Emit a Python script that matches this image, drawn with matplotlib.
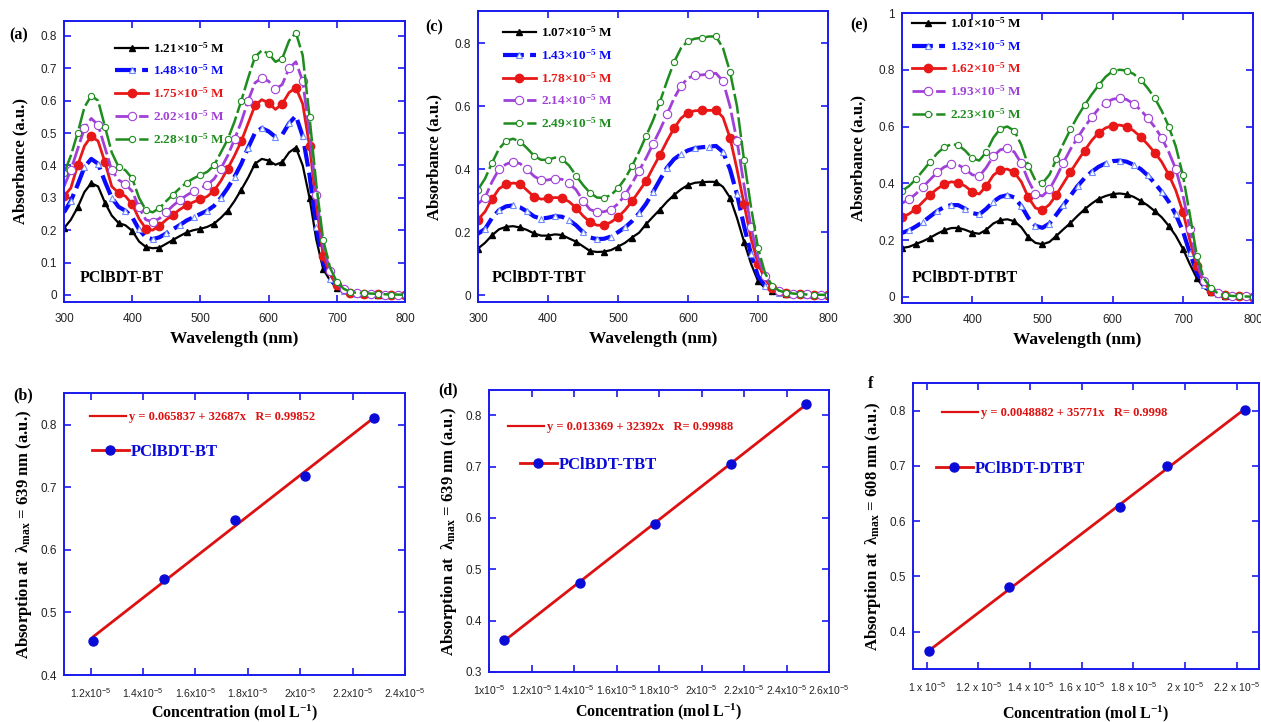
import numpy as np
import matplotlib.pyplot as plt
from matplotlib.lines import Line2D
from matplotlib.ticker import FormatStrFormatter

plt.rcParams['font.family'] = 'Liberation Sans'
plt.rcParams['mathtext.default'] = 'regular'

# ---------------- data ----------------
wl = np.arange(300, 801, 10)

# (a) PClBDT-BT
conc_a = ['1.21', '1.48', '1.75', '2.02', '2.28']
a_1 = [0.206, 0.232, 0.27, 0.318, 0.345, 0.335, 0.285, 0.245, 0.222, 0.215,
       0.198, 0.165, 0.148, 0.144, 0.146, 0.158, 0.17, 0.182, 0.193, 0.2,
       0.204, 0.21, 0.22, 0.238, 0.26, 0.29, 0.325, 0.362, 0.405, 0.42,
       0.415, 0.402, 0.41, 0.44, 0.455, 0.40, 0.30, 0.17, 0.08, 0.045,
       0.022, 0.012, 0.006, 0.004, 0.003, 0.002, 0.001, 0.001, 0.0, 0.0, 0.0]
a_2 = [0.255, 0.29, 0.34, 0.395, 0.42, 0.405, 0.35, 0.3, 0.272, 0.26,
       0.24, 0.202, 0.178, 0.172, 0.178, 0.19, 0.203, 0.216, 0.23, 0.24,
       0.25, 0.26, 0.275, 0.3, 0.33, 0.365, 0.405, 0.455, 0.5, 0.515,
       0.505, 0.488, 0.495, 0.53, 0.553, 0.49, 0.37, 0.21, 0.1, 0.05,
       0.025, 0.013, 0.007, 0.004, 0.003, 0.002, 0.001, 0.001, 0.0, 0.0, 0.0]
a_3 = [0.305, 0.33, 0.4, 0.46, 0.49, 0.475, 0.41, 0.335, 0.315, 0.305,
       0.28, 0.235, 0.205, 0.2, 0.214, 0.232, 0.248, 0.264, 0.277, 0.287,
       0.295, 0.304, 0.322, 0.352, 0.39, 0.43, 0.475, 0.53, 0.585, 0.603,
       0.593, 0.573, 0.59, 0.625, 0.64, 0.59, 0.46, 0.28, 0.12, 0.065,
       0.03, 0.015, 0.007, 0.005, 0.004, 0.003, 0.002, 0.001, 0.001, 0.0, 0.0]
a_4 = [0.335, 0.385, 0.45, 0.515, 0.545, 0.525, 0.455, 0.385, 0.355, 0.342,
       0.32, 0.27, 0.232, 0.226, 0.236, 0.256, 0.276, 0.293, 0.308, 0.32,
       0.33, 0.34, 0.358, 0.39, 0.43, 0.48, 0.535, 0.6, 0.655, 0.67,
       0.66, 0.635, 0.65, 0.7, 0.72, 0.66, 0.5, 0.31, 0.15, 0.075,
       0.035, 0.017, 0.008, 0.005, 0.004, 0.003, 0.002, 0.001, 0.001, 0.0, 0.0]
a_5 = [0.375, 0.43, 0.5, 0.58, 0.615, 0.6, 0.52, 0.44, 0.395, 0.385,
       0.36, 0.3, 0.262, 0.255, 0.268, 0.29, 0.31, 0.33, 0.347, 0.36,
       0.37, 0.38, 0.4, 0.44, 0.48, 0.535, 0.6, 0.67, 0.735, 0.755,
       0.745, 0.72, 0.73, 0.785, 0.81, 0.74, 0.55, 0.34, 0.17, 0.085,
       0.04, 0.019, 0.009, 0.006, 0.005, 0.004, 0.003, 0.002, 0.001, 0.001, 0.0]

# (c) PClBDT-TBT
conc_c = ['1.07', '1.43', '1.78', '2.14', '2.49']
c_1 = [0.148, 0.166, 0.19, 0.209, 0.217, 0.219, 0.215, 0.207, 0.196, 0.189,
       0.189, 0.193, 0.191, 0.18, 0.17, 0.155, 0.14, 0.137, 0.138, 0.143,
       0.154, 0.166, 0.183, 0.198, 0.225, 0.249, 0.272, 0.297, 0.318, 0.336,
       0.35, 0.357, 0.359, 0.36, 0.36, 0.344, 0.31, 0.245, 0.17, 0.1,
       0.045, 0.022, 0.014, 0.007, 0.004, 0.003, 0.002, 0.001, 0.001, 0.0, 0.0]
c_2 = [0.195, 0.21, 0.245, 0.27, 0.282, 0.285, 0.279, 0.266, 0.25, 0.243,
       0.246, 0.251, 0.249, 0.238, 0.222, 0.2, 0.183, 0.178, 0.179, 0.186,
       0.2, 0.215, 0.235, 0.26, 0.29, 0.327, 0.367, 0.405, 0.432, 0.448,
       0.46, 0.467, 0.47, 0.472, 0.474, 0.455, 0.4, 0.32, 0.22, 0.13,
       0.06, 0.03, 0.016, 0.008, 0.004, 0.003, 0.002, 0.001, 0.001, 0.0, 0.0]
c_3 = [0.24, 0.265, 0.305, 0.338, 0.352, 0.356, 0.354, 0.333, 0.313, 0.305,
       0.307, 0.31, 0.309, 0.297, 0.278, 0.252, 0.232, 0.222, 0.222, 0.232,
       0.248, 0.27, 0.298, 0.33, 0.362, 0.405, 0.446, 0.49, 0.53, 0.562,
       0.58, 0.586, 0.587, 0.587, 0.588, 0.565, 0.5, 0.4, 0.29, 0.18,
       0.1, 0.05, 0.022, 0.012, 0.006, 0.004, 0.003, 0.002, 0.001, 0.001, 0.0]
c_4 = [0.29, 0.31, 0.36, 0.4, 0.416, 0.424, 0.418, 0.4, 0.378, 0.365,
       0.366, 0.37, 0.368, 0.355, 0.335, 0.3, 0.272, 0.264, 0.265, 0.272,
       0.29, 0.318, 0.355, 0.395, 0.435, 0.48, 0.525, 0.575, 0.625, 0.665,
       0.69, 0.698, 0.7, 0.702, 0.705, 0.68, 0.6, 0.49, 0.35, 0.215,
       0.12, 0.06, 0.028, 0.014, 0.007, 0.004, 0.003, 0.002, 0.001, 0.001, 0.0]
c_5 = [0.335, 0.37, 0.42, 0.465, 0.49, 0.497, 0.488, 0.467, 0.443, 0.43,
       0.43, 0.437, 0.432, 0.412, 0.38, 0.35, 0.325, 0.31, 0.309, 0.318,
       0.34, 0.37, 0.41, 0.455, 0.505, 0.555, 0.615, 0.68, 0.74, 0.785,
       0.808, 0.815, 0.818, 0.822, 0.822, 0.785, 0.71, 0.6, 0.43, 0.28,
       0.15, 0.07, 0.03, 0.014, 0.008, 0.005, 0.003, 0.002, 0.001, 0.001, 0.0]

# (e) PClBDT-DTBT
conc_e = ['1.01', '1.32', '1.62', '1.93', '2.23']
e_1 = [0.172, 0.176, 0.186, 0.196, 0.208, 0.222, 0.234, 0.242, 0.243, 0.236,
       0.226, 0.222, 0.236, 0.258, 0.27, 0.273, 0.266, 0.245, 0.21, 0.19,
       0.185, 0.193, 0.215, 0.238, 0.26, 0.285, 0.308, 0.328, 0.345, 0.355,
       0.362, 0.364, 0.361, 0.352, 0.338, 0.322, 0.302, 0.28, 0.25, 0.215,
       0.17, 0.115, 0.065, 0.032, 0.016, 0.008, 0.004, 0.003, 0.002, 0.001, 0.0]
e_2 = [0.225, 0.234, 0.248, 0.264, 0.283, 0.302, 0.316, 0.323, 0.323, 0.31,
       0.295, 0.29, 0.31, 0.335, 0.352, 0.358, 0.35, 0.32, 0.278, 0.25,
       0.243, 0.258, 0.29, 0.323, 0.356, 0.39, 0.418, 0.44, 0.458, 0.47,
       0.478, 0.48, 0.476, 0.465, 0.45, 0.428, 0.4, 0.37, 0.335, 0.29,
       0.232, 0.155, 0.085, 0.04, 0.02, 0.01, 0.005, 0.003, 0.002, 0.001, 0.0]
e_3 = [0.28, 0.292, 0.31, 0.335, 0.36, 0.38, 0.396, 0.405, 0.402, 0.39,
       0.37, 0.362, 0.39, 0.428, 0.447, 0.45, 0.438, 0.405, 0.35, 0.313,
       0.305, 0.325, 0.36, 0.4, 0.44, 0.478, 0.515, 0.55, 0.578, 0.595,
       0.603, 0.605, 0.6, 0.585, 0.563, 0.537, 0.508, 0.475, 0.43, 0.375,
       0.3, 0.2, 0.11, 0.05, 0.022, 0.01, 0.005, 0.003, 0.002, 0.001, 0.0]
e_4 = [0.33, 0.343, 0.363, 0.388, 0.413, 0.438, 0.457, 0.467, 0.465, 0.45,
       0.43, 0.425, 0.455, 0.495, 0.518, 0.523, 0.51, 0.47, 0.41, 0.362,
       0.355, 0.378, 0.423, 0.473, 0.52, 0.56, 0.598, 0.632, 0.662, 0.683,
       0.696, 0.7, 0.695, 0.68, 0.658, 0.63, 0.598, 0.56, 0.51, 0.45,
       0.36, 0.24, 0.12, 0.055, 0.025, 0.012, 0.006, 0.003, 0.002, 0.001, 0.0]
e_5 = [0.373, 0.39, 0.415, 0.445, 0.475, 0.505, 0.527, 0.537, 0.535, 0.515,
       0.488, 0.48, 0.51, 0.56, 0.592, 0.6, 0.585, 0.535, 0.462, 0.41,
       0.4, 0.43, 0.485, 0.54, 0.59, 0.635, 0.675, 0.712, 0.745, 0.775,
       0.795, 0.8, 0.797, 0.785, 0.765, 0.735, 0.7, 0.655, 0.6, 0.53,
       0.43, 0.29, 0.145, 0.065, 0.03, 0.012, 0.006, 0.003, 0.002, 0.001, 0.0]

# calibration data (absorbance at lambda max vs concentration)
b_conc = [1.21e-5, 1.48e-5, 1.75e-5, 2.02e-5, 2.28e-5]
b_abs = [0.455, 0.554, 0.648, 0.718, 0.811]
b_fit = (0.065837, 32687)
d_conc = [1.07e-5, 1.43e-5, 1.78e-5, 2.14e-5, 2.49e-5]
d_abs = [0.362, 0.474, 0.589, 0.704, 0.822]
d_fit = (0.013369, 32392)
f_conc = [1.01e-5, 1.32e-5, 1.75e-5, 1.93e-5, 2.23e-5]
f_abs = [0.365, 0.480, 0.626, 0.699, 0.802]
f_fit = (0.0048882, 35771)

b_xticks = [1.2e-5, 1.4e-5, 1.6e-5, 1.8e-5, 2.0e-5, 2.2e-5, 2.4e-5]
b_xlabels = ['1.2x10$^{-5}$', '1.4x10$^{-5}$', '1.6x10$^{-5}$', '1.8x10$^{-5}$',
             '2x10$^{-5}$', '2.2x10$^{-5}$', '2.4x10$^{-5}$']
d_xticks = [1.0e-5, 1.2e-5, 1.4e-5, 1.6e-5, 1.8e-5, 2.0e-5, 2.2e-5, 2.4e-5, 2.6e-5]
d_xlabels = ['1x10$^{-5}$', '1.2x10$^{-5}$', '1.4x10$^{-5}$', '1.6x10$^{-5}$', '1.8x10$^{-5}$',
             '2x10$^{-5}$', '2.2x10$^{-5}$', '2.4x10$^{-5}$', '2.6x10$^{-5}$']
f_xticks = [1.0e-5, 1.2e-5, 1.4e-5, 1.6e-5, 1.8e-5, 2.0e-5, 2.2e-5]
f_xlabels = ['1 x 10$^{-5}$', '1.2 x 10$^{-5}$', '1.4 x 10$^{-5}$', '1.6 x 10$^{-5}$',
             '1.8 x 10$^{-5}$', '2 x 10$^{-5}$', '2.2 x 10$^{-5}$']

# ---------------- styling ----------------
FRAME = '#1a1aee'
SERIF = dict(family='Liberation Serif', weight='bold')
colors = ['black', '#0a0aff', '#e81818', '#a040d8', '#1e8c1e']
styles = [
    dict(ls='-', lw=1.6, marker='^', ms=5, mfc='black', mec='black'),
    dict(ls=(0, (5, 1.5)), lw=3.0, marker='^', ms=5, mfc='white', mec='#6f8cff', mew=0.8),
    dict(ls='-', lw=2.0, marker='o', ms=6, mfc='#e81818', mec='#e81818'),
    dict(ls=(0, (7, 1.5)), lw=2.0, marker='o', ms=6, mfc='white', mec='#a040d8', mew=0.8),
    dict(ls=(0, (8, 1.5)), lw=1.8, marker='o', ms=4.5, mfc='white', mec='#1e8c1e', mew=0.8),
]

fig = plt.figure(figsize=(12.61, 7.22), dpi=100)


def frame(ax):
    for s in ax.spines.values():
        s.set_color(FRAME)
        s.set_linewidth(1.4)
    ax.tick_params(which='both', direction='in', top=True, right=True, color=FRAME,
                   length=5, width=1.2, labelsize=8.5, labelcolor='#222222', pad=5)


def spectrum(rect, series, concs, name, ylim, ystep, leg_anchor, name_pos):
    ax = fig.add_axes(rect)
    for i, y in enumerate(series):
        ax.plot(wl, y, color=colors[i], markevery=(i % 2, 2),
                label=concs[i] + '×10$^{-5}$ M', **styles[i])
    ax.set_xlim(300, 800)
    ax.set_ylim(*ylim)
    ax.set_xticks(np.arange(300, 801, 100))
    ax.set_yticks(np.arange(0, ylim[1] + 1e-9, ystep))
    ax.yaxis.set_major_formatter(FormatStrFormatter('%g'))
    frame(ax)
    ax.tick_params(axis='x', pad=8)
    ax.set_xlabel('Wavelength (nm)', fontsize=12.5, labelpad=4, **SERIF)
    ax.set_ylabel('Absorbance (a.u.)', fontsize=12, labelpad=9, **SERIF)
    leg = ax.legend(loc='upper left', bbox_to_anchor=leg_anchor, frameon=False,
                    prop=dict(size=9.5, **SERIF), handlelength=2.5, handletextpad=0.4,
                    labelspacing=0.62, borderpad=0, borderaxespad=0)
    for t, c in zip(leg.get_texts(), colors):
        t.set_color(c)
    ax.text(name_pos[0], name_pos[1], name, transform=ax.transAxes, fontsize=11.5,
            va='center', ha='left', **SERIF)
    return ax


def calibration(rect, conc, ab, fit, name, lam, xlim, ylim, xticks, xlabels,
                eq_anchor, name_anchor, eq_r, xpad):
    ax = fig.add_axes(rect)
    xs = np.array([conc[0], conc[-1]])
    ax.plot(xs, fit[0] + fit[1] * xs, color='#dd1111', lw=2)
    ax.plot(conc, ab, 'o', color='#0b0bd8', ms=6.5, zorder=3)
    ax.set_xlim(*xlim)
    ax.set_ylim(*ylim)
    ax.set_xticks(xticks)
    ax.set_xticklabels(xlabels)
    ax.yaxis.set_major_formatter(FormatStrFormatter('%g'))
    frame(ax)
    ax.tick_params(axis='x', labelsize=7.5, pad=8)
    ax.set_xlabel('Concentration (mol L$^{-1}$)', fontsize=11.5, labelpad=xpad, **SERIF)
    ax.set_ylabel('Absorption at  λ$_{max}$ = %d nm (a.u.)' % lam, fontsize=12,
                  labelpad=5, **SERIF)

    eq_text = 'y = %s + %dx   R= %s' % (repr(fit[0]), fit[1], eq_r)
    h1 = Line2D([], [], color='#dd1111', lw=1.6)
    leg1 = ax.legend([h1], [eq_text], loc='center left', bbox_to_anchor=eq_anchor,
                     frameon=False, prop=dict(size=9, **SERIF), handlelength=2.9,
                     handletextpad=0.2, borderpad=0, borderaxespad=0)
    leg1.get_texts()[0].set_color('#dd1111')
    ax.add_artist(leg1)
    h2 = Line2D([], [], color='#dd1111', lw=2, marker='o', ms=6.5, mfc='#0b0bd8', mec='#0b0bd8')
    leg2 = ax.legend([h2], [name], loc='center left', bbox_to_anchor=name_anchor,
                     frameon=False, prop=dict(size=12, **SERIF), handlelength=2.2,
                     handletextpad=0.15, borderpad=0, borderaxespad=0)
    leg2.get_texts()[0].set_color('#0b0bd8')
    return ax


W, H = 1261.0, 722.0


def rect(x0, x1, y0, y1):
    return [x0 / W, 1 - y1 / H, (x1 - x0) / W, (y1 - y0) / H]


spectrum(rect(64, 405, 21, 302), [a_1, a_2, a_3, a_4, a_5], conc_a, 'PClBDT-BT',
         (-0.022, 0.846), 0.1, (0.15, 0.93), (0.047, 0.085))
spectrum(rect(478, 828, 11, 302), [c_1, c_2, c_3, c_4, c_5], conc_c, 'PClBDT-TBT',
         (-0.022, 0.903), 0.2, (0.071, 0.952), (0.04, 0.082))
spectrum(rect(902, 1253, 13, 303), [e_1, e_2, e_3, e_4, e_5], conc_e, 'PClBDT-DTBT',
         (-0.022, 1.0), 0.2, (0.028, 0.99), (0.028, 0.086))

calibration(rect(64, 405, 393, 675), b_conc, b_abs, b_fit, 'PClBDT-BT', 639,
            (1.098e-5, 2.4e-5), (0.4, 0.851), b_xticks, b_xlabels,
            (0.076, 0.915), (0.082, 0.79), '0.99852', 1.5)
calibration(rect(489, 829, 390, 672), d_conc, d_abs, d_fit, 'PClBDT-TBT', 639,
            (1.0e-5, 2.6e-5), (0.3, 0.849), d_xticks, d_xlabels,
            (0.056, 0.869), (0.091, 0.734), '0.99988', 3.5)
calibration(rect(913, 1259, 383, 669), f_conc, f_abs, f_fit, 'PClBDT-DTBT', 608,
            (0.947e-5, 2.286e-5), (0.3325, 0.85), f_xticks, f_xlabels,
            (0.084, 0.895), (0.066, 0.699), '0.9998', 7)

# panel letters
for x, y, s in [(9, 35, '(a)'), (425, 27, '(c)'), (850, 25, '(e)'),
                (13, 395, '(b)'), (438, 390, '(d)'), (868, 384, 'f')]:
    fig.text(x / W, 1 - y / H, s, fontsize=11.5, va='center', ha='left', **SERIF)

fig.savefig('out.png', dpi=100)
